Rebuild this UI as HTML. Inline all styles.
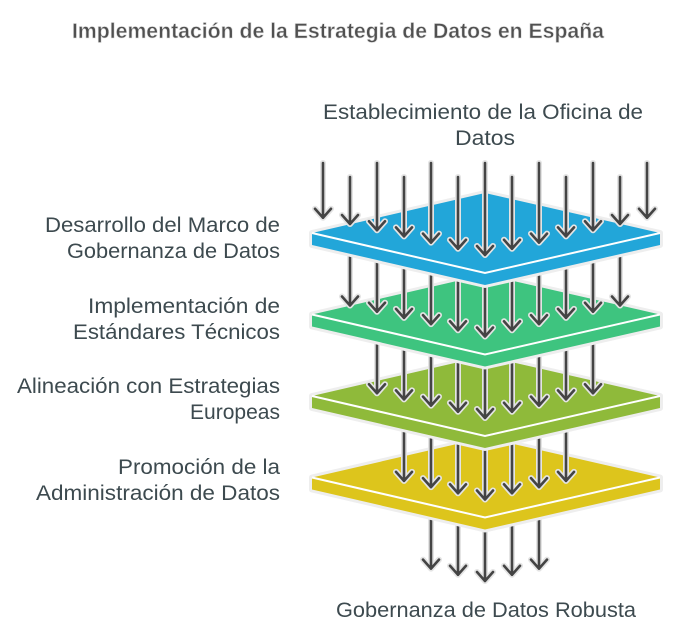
<!DOCTYPE html>
<html><head><meta charset="utf-8"><style>
html,body{margin:0;padding:0;background:#fff;}
svg{display:block}
text{font-family:"Liberation Sans",sans-serif;}
.l{font-size:21px;fill:#3d4a4f;text-anchor:end;}
.c{font-size:21px;fill:#3d4a4f;text-anchor:middle;}
.a{stroke:#444;stroke-width:2.6;fill:none;stroke-linecap:round;stroke-linejoin:round;}
.h{stroke:#e4e4e4;stroke-width:6;fill:none;stroke-linecap:round;stroke-linejoin:round;}
</style></head><body>
<svg width="689" height="637" viewBox="0 0 689 637" xmlns="http://www.w3.org/2000/svg">
<defs>
<g id="p">
<polygon points="312,0 485,-40 660,0 660,12 485,52 312,12" fill="none" stroke="#eeeeee" stroke-width="6" stroke-linejoin="round"/>
</g>
</defs>
<text x="338" y="38" text-anchor="middle" font-size="21" font-weight="bold" fill="#505050" stroke="#ddd" stroke-width="0.6" textLength="532" lengthAdjust="spacingAndGlyphs">Implementación de la Estrategia de Datos en España</text>

<text class="c" x="483" y="119" textLength="320" lengthAdjust="spacingAndGlyphs">Establecimiento de la Oficina de</text>
<text class="c" x="485" y="145" textLength="60" lengthAdjust="spacingAndGlyphs">Datos</text>
<text class="l" x="280" y="232" textLength="235" lengthAdjust="spacingAndGlyphs">Desarrollo del Marco de</text>
<text class="l" x="280" y="258" textLength="213" lengthAdjust="spacingAndGlyphs">Gobernanza de Datos</text>
<text class="l" x="280" y="313" textLength="192" lengthAdjust="spacingAndGlyphs">Implementación de</text>
<text class="l" x="280" y="339" textLength="207" lengthAdjust="spacingAndGlyphs">Estándares Técnicos</text>
<text class="l" x="280" y="393" textLength="263" lengthAdjust="spacingAndGlyphs">Alineación con Estrategias</text>
<text class="l" x="280" y="419" textLength="90" lengthAdjust="spacingAndGlyphs">Europeas</text>
<text class="l" x="280" y="474" textLength="162" lengthAdjust="spacingAndGlyphs">Promoción de la</text>
<text class="l" x="280" y="500" textLength="244" lengthAdjust="spacingAndGlyphs">Administración de Datos</text>
<text class="c" x="486" y="617" textLength="300" lengthAdjust="spacingAndGlyphs">Gobernanza de Datos Robusta</text>

<g>
<path class="h" d="M431,519 V568.6 M423,559.6 L431,568.6 L439,559.6 M458,525.3 V574.8 M450,565.8 L458,574.8 L466,565.8 M485,531.5 V581 M477,572 L485,581 L493,572 M512,525.3 V574.8 M504,565.8 L512,574.8 L520,565.8 M539,519 V568.6 M531,559.6 L539,568.6 L547,559.6"/>
<path class="a" d="M431,519 V568.6 M423,559.6 L431,568.6 L439,559.6 M458,525.3 V574.8 M450,565.8 L458,574.8 L466,565.8 M485,531.5 V581 M477,572 L485,581 L493,572 M512,525.3 V574.8 M504,565.8 L512,574.8 L520,565.8 M539,519 V568.6 M531,559.6 L539,568.6 L547,559.6"/>
</g>

<g transform="translate(0,477.5)">
<use href="#p"/>
<polygon points="312,0 485,-40 660,0 660,12 485,52 312,12" fill="#ddc51c"/>
<polyline points="312,0 485,40 660,0" fill="none" stroke="#fff" stroke-width="2"/>
</g>
<g>
<path class="h" d="M404,431.4 V480.9 M396,471.9 L404,480.9 L412,471.9 M431,437.6 V487.1 M423,478.1 L431,487.1 L439,478.1 M458,443.8 V493.3 M450,484.3 L458,493.3 L466,484.3 M485,450 V499.5 M477,490.5 L485,499.5 L493,490.5 M512,443.8 V493.3 M504,484.3 L512,493.3 L520,484.3 M539,437.6 V487.1 M531,478.1 L539,487.1 L547,478.1 M566,431.4 V480.9 M558,471.9 L566,480.9 L574,471.9"/>
<path class="a" d="M404,431.4 V480.9 M396,471.9 L404,480.9 L412,471.9 M431,437.6 V487.1 M423,478.1 L431,487.1 L439,478.1 M458,443.8 V493.3 M450,484.3 L458,493.3 L466,484.3 M485,450 V499.5 M477,490.5 L485,499.5 L493,490.5 M512,443.8 V493.3 M504,484.3 L512,493.3 L520,484.3 M539,437.6 V487.1 M531,478.1 L539,487.1 L547,478.1 M566,431.4 V480.9 M558,471.9 L566,480.9 L574,471.9"/>
</g>

<g transform="translate(0,396)">
<use href="#p"/>
<polygon points="312,0 485,-40 660,0 660,12 485,52 312,12" fill="#8fba3a"/>
<polyline points="312,0 485,40 660,0" fill="none" stroke="#fff" stroke-width="2"/>
</g>
<g>
<path class="h" d="M377,343.7 V393.2 M369,384.2 L377,393.2 L385,384.2 M404,349.9 V399.4 M396,390.4 L404,399.4 L412,390.4 M431,356.1 V405.6 M423,396.6 L431,405.6 L439,396.6 M458,362.3 V411.8 M450,402.8 L458,411.8 L466,402.8 M485,368.5 V418 M477,409 L485,418 L493,409 M512,362.3 V411.8 M504,402.8 L512,411.8 L520,402.8 M539,356.1 V405.6 M531,396.6 L539,405.6 L547,396.6 M566,349.9 V399.4 M558,390.4 L566,399.4 L574,390.4 M593,343.7 V393.2 M585,384.2 L593,393.2 L601,384.2"/>
<path class="a" d="M377,343.7 V393.2 M369,384.2 L377,393.2 L385,384.2 M404,349.9 V399.4 M396,390.4 L404,399.4 L412,390.4 M431,356.1 V405.6 M423,396.6 L431,405.6 L439,396.6 M458,362.3 V411.8 M450,402.8 L458,411.8 L466,402.8 M485,368.5 V418 M477,409 L485,418 L493,409 M512,362.3 V411.8 M504,402.8 L512,411.8 L520,402.8 M539,356.1 V405.6 M531,396.6 L539,405.6 L547,396.6 M566,349.9 V399.4 M558,390.4 L566,399.4 L574,390.4 M593,343.7 V393.2 M585,384.2 L593,393.2 L601,384.2"/>
</g>

<g transform="translate(0,314.5)">
<use href="#p"/>
<polygon points="312,0 485,-40 660,0 660,12 485,52 312,12" fill="#3ec47f"/>
<polyline points="312,0 485,40 660,0" fill="none" stroke="#fff" stroke-width="2"/>
</g>
<g>
<path class="h" d="M350,256 V305.5 M342,296.5 L350,305.5 L358,296.5 M377,262.2 V311.7 M369,302.7 L377,311.7 L385,302.7 M404,268.4 V317.9 M396,308.9 L404,317.9 L412,308.9 M431,274.6 V324.1 M423,315.1 L431,324.1 L439,315.1 M458,280.8 V330.3 M450,321.3 L458,330.3 L466,321.3 M485,287 V336.5 M477,327.5 L485,336.5 L493,327.5 M512,280.8 V330.3 M504,321.3 L512,330.3 L520,321.3 M539,274.6 V324.1 M531,315.1 L539,324.1 L547,315.1 M566,268.4 V317.9 M558,308.9 L566,317.9 L574,308.9 M593,262.2 V311.7 M585,302.7 L593,311.7 L601,302.7 M620,256 V305.5 M612,296.5 L620,305.5 L628,296.5"/>
<path class="a" d="M350,256 V305.5 M342,296.5 L350,305.5 L358,296.5 M377,262.2 V311.7 M369,302.7 L377,311.7 L385,302.7 M404,268.4 V317.9 M396,308.9 L404,317.9 L412,308.9 M431,274.6 V324.1 M423,315.1 L431,324.1 L439,315.1 M458,280.8 V330.3 M450,321.3 L458,330.3 L466,321.3 M485,287 V336.5 M477,327.5 L485,336.5 L493,327.5 M512,280.8 V330.3 M504,321.3 L512,330.3 L520,321.3 M539,274.6 V324.1 M531,315.1 L539,324.1 L547,315.1 M566,268.4 V317.9 M558,308.9 L566,317.9 L574,308.9 M593,262.2 V311.7 M585,302.7 L593,311.7 L601,302.7 M620,256 V305.5 M612,296.5 L620,305.5 L628,296.5"/>
</g>

<g transform="translate(0,233)">
<use href="#p"/>
<polygon points="312,0 485,-40 660,0 660,12 485,52 312,12" fill="#22a6d9"/>
<polyline points="312,0 485,40 660,0" fill="none" stroke="#fff" stroke-width="2"/>
</g>
<g>
<path class="h" d="M323,163 V217.8 M315,208.8 L323,217.8 L331,208.8 M350,177 V224 M342,215 L350,224 L358,215 M377,163 V230.2 M369,221.2 L377,230.2 L385,221.2 M404,177 V236.4 M396,227.4 L404,236.4 L412,227.4 M431,163 V242.6 M423,233.6 L431,242.6 L439,233.6 M458,177 V248.8 M450,239.8 L458,248.8 L466,239.8 M485,163 V255 M477,246 L485,255 L493,246 M512,177 V248.8 M504,239.8 L512,248.8 L520,239.8 M539,163 V242.6 M531,233.6 L539,242.6 L547,233.6 M566,177 V236.4 M558,227.4 L566,236.4 L574,227.4 M593,163 V230.2 M585,221.2 L593,230.2 L601,221.2 M620,177 V224 M612,215 L620,224 L628,215 M647,163 V217.8 M639,208.8 L647,217.8 L655,208.8"/>
<path class="a" d="M323,163 V217.8 M315,208.8 L323,217.8 L331,208.8 M350,177 V224 M342,215 L350,224 L358,215 M377,163 V230.2 M369,221.2 L377,230.2 L385,221.2 M404,177 V236.4 M396,227.4 L404,236.4 L412,227.4 M431,163 V242.6 M423,233.6 L431,242.6 L439,233.6 M458,177 V248.8 M450,239.8 L458,248.8 L466,239.8 M485,163 V255 M477,246 L485,255 L493,246 M512,177 V248.8 M504,239.8 L512,248.8 L520,239.8 M539,163 V242.6 M531,233.6 L539,242.6 L547,233.6 M566,177 V236.4 M558,227.4 L566,236.4 L574,227.4 M593,163 V230.2 M585,221.2 L593,230.2 L601,221.2 M620,177 V224 M612,215 L620,224 L628,215 M647,163 V217.8 M639,208.8 L647,217.8 L655,208.8"/>
</g>
</svg>
</body></html>
